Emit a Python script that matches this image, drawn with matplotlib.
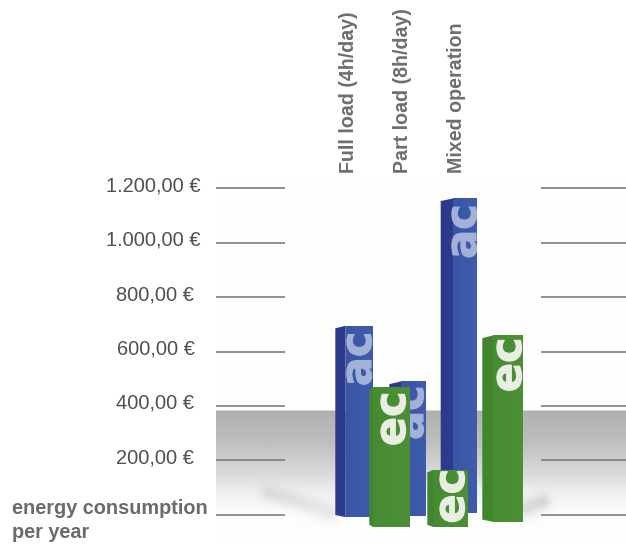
import numpy as np
import matplotlib
matplotlib.use("Agg")
import matplotlib.pyplot as plt
import matplotlib.patheffects as pe
from matplotlib.colors import LinearSegmentedColormap

plt.rcParams['font.family'] = ['Liberation Sans', 'DejaVu Sans']

# values in euro per year
categories = ["Full load (4h/day)", "Part load (8h/day)", "Mixed operation"]
ac_values = [695, 490, 1163]
ec_values = [468, 165, 659]
# the boxes stand on a perspective floor, so their feet sit at different heights
ac_feet = [-9, -5, 6]
ec_feet = [-45, -45, -26]

tick_values = [0, 200, 400, 600, 800, 1000, 1200]
tick_labels = ["", "200,00 €", "400,00 €", "600,00 €", "800,00 €", "1.000,00 €", "1.200,00 €"]
tick_label_x = [0, 116, 116, 117, 116, 106, 106]
title_lines = ["energy consumption", "per year"]

# left edge, fold, right edge of every box
ac_x = [(335.3, 345.7, 372.3), (389.3, 401, 426), (440.7, 453.3, 477.3)]
ec_x = [(369.3, 373, 410), (427.3, 433, 467.3), (482.3, 493, 522.3)]
# right edge of the printed letters and their gap below the box top
ac_text_x = [371, 423, 476]
ec_text_x = [405, 464, 521]
ac_text_gap = [6, 4, 6]
ec_text_gap = [4, -1, 2]

PX_ZERO = 514.7
PX_PER_EURO = 0.272
W, H = 626, 544


def euro(px):
    return (PX_ZERO - px) / PX_PER_EURO


def shadow(xx, yy, p0, p1, amount, soft):
    # soft dark streak on the floor along the segment p0-p1
    ax_, ay_ = p0
    bx_, by_ = p1
    t = ((xx - ax_) * (bx_ - ax_) + (yy - ay_) * (by_ - ay_)) / ((bx_ - ax_) ** 2 + (by_ - ay_) ** 2)
    t = np.clip(t, 0, 1)
    d2 = (xx - ax_ - t * (bx_ - ax_)) ** 2 + (yy - ay_ - t * (by_ - ay_)) ** 2
    return amount * np.exp(-d2 / (2 * soft ** 2))


def box(ax, x, foot, top, side_col, front_cols, z):
    left, fold, right = x
    # side face, tilted a little at both ends
    ax.fill([left, fold, fold, left],
            [foot + 8, foot, top, top - 10],
            color=side_col, lw=0, zorder=z)
    bar = ax.bar(fold, top - foot, width=right - fold, bottom=foot, align='edge',
                 color=front_cols[0], lw=0, zorder=z)[0]
    cmap = LinearSegmentedColormap.from_list("face", front_cols)
    im = ax.imshow(np.linspace(0, 1, 32).reshape(1, -1), cmap=cmap, aspect='auto',
                   extent=(fold, right, foot, top), zorder=z, interpolation='bilinear')
    im.set_clip_path(bar)


def box_label(ax, x, top, gap, s, col, z):
    t = ax.text(x, top - gap / PX_PER_EURO, s, rotation=90, rotation_mode='anchor', fontsize=31,
                family='DejaVu Sans', fontweight='bold', color=col, ha='right', va='baseline', zorder=z)
    t.set_path_effects([pe.withStroke(linewidth=0.8, foreground=col)])


fig = plt.figure(figsize=(6.26, 5.44), dpi=100)
ax = fig.add_axes([0, 0, 1, 1])

# floor and the pale wall behind the boxes
xs = np.arange(216, W)
ys = np.arange(180, H)
xx, yy = np.meshgrid(xs, ys)
floor = np.interp(yy, [180, 409.5, 410.5, 440, 470, 490, 510, 544],
                  [0.995, 0.995, 0.69, 0.74, 0.84, 0.93, 0.985, 0.995])
floor -= shadow(xx, yy, (268, 493), (330, 512), 0.08, 6)
floor -= shadow(xx, yy, (526, 508), (542, 502), 0.12, 6)
floor = np.clip(floor, 0, 1)
ax.imshow(floor, cmap='gray', vmin=0, vmax=1, aspect='auto', zorder=0,
          extent=(216, W, euro(H), euro(180)), interpolation='bilinear')

# tick strokes on both sides of the boxes
ax.hlines(tick_values, 216, 285, color='#7d7d7d', lw=1.2, zorder=1)
ax.hlines(tick_values, 541, W, color='#7d7d7d', lw=1.2, zorder=1)

for v, lab, tx in zip(tick_values, tick_labels, tick_label_x):
    if lab:
        ax.text(tx, v + 9, lab, fontsize=14.4, color='#505050', ha='left', va='center')

ax.text(12, euro(509), title_lines[0], fontsize=14.3, fontweight='bold', color='#6b6b6b', va='center')
ax.text(12, euro(533), title_lines[1], fontsize=14.3, fontweight='bold', color='#6b6b6b', va='center')

for i in range(3):
    box(ax, ac_x[i], ac_feet[i], ac_values[i], '#2b3a8c', ['#3a55a6', '#3f5cab'], 2 + i * 0.1)
    box_label(ax, ac_text_x[i], ac_values[i], ac_text_gap[i], "ac", '#a3b1d8', 2.05 + i * 0.1)

for i in range(3):
    box(ax, ec_x[i], ec_feet[i], ec_values[i], '#42852f', ['#468c33', '#4d8f36'], 3 + i * 0.1)
    box_label(ax, ec_text_x[i], ec_values[i], ec_text_gap[i], "ec", '#e8eee2', 3.05 + i * 0.1)

for tx, name in zip([349, 403, 457], categories):
    ax.text(tx, euro(173), name, rotation=90, fontsize=14.1, fontweight='bold', color='#6e6e6e',
            ha='center', va='bottom')

ax.set_xlim(0, W)
ax.set_ylim(euro(H), euro(0))
ax.axis('off')

fig.savefig("out.png", dpi=100)
